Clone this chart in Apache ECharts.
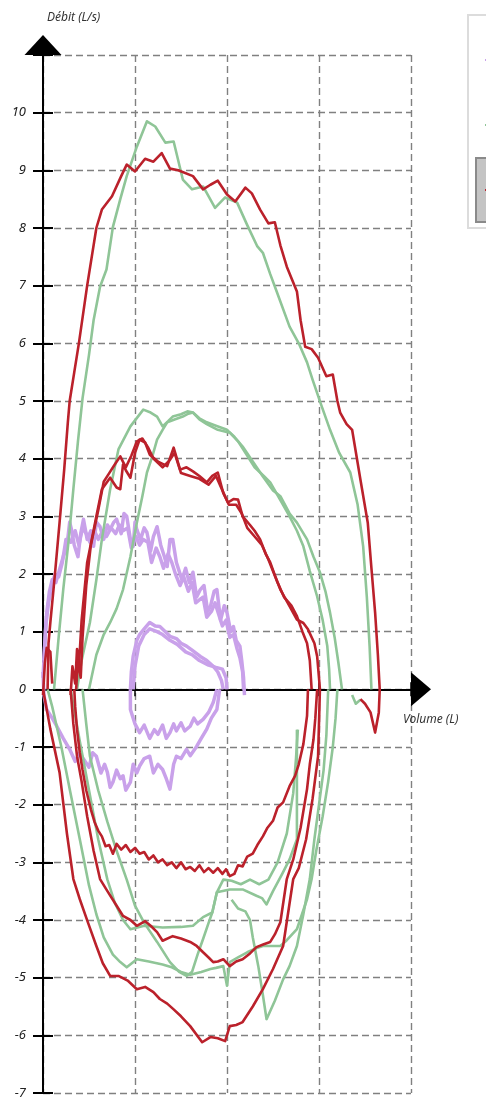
<!DOCTYPE html>
<html>
<head>
<meta charset="utf-8">
<script src="https://cdn.jsdelivr.net/npm/echarts@6/dist/echarts.min.js"></script>
<style>
html,body{margin:0;padding:0;background:#fff;}
#chart{width:486px;height:1099px;}
</style>
</head>
<body>
<div id="chart"></div>
<script>
// Axis ticks
const xTicks = [0, 1, 2, 3, 4];
const yTicks = [-7, -6, -5, -4, -3, -2, -1, 0, 1, 2, 3, 4, 5, 6, 7, 8, 9, 10, 11];
const seriesNames = ['Boucle 1', 'Boucle 2', 'Boucle 3'];

// Purple loops [volume L, flow L/s]
const purpleExpA = [[0.0,0.2],[0.02,0.8],[0.04,1.33],[0.07,1.7],[0.1,1.9],[0.14,1.85],[0.18,2.08],[0.22,2.3],[0.26,2.48],[0.29,2.9],[0.31,2.77],[0.34,2.5],[0.38,2.3],[0.41,2.7],[0.44,2.95],[0.48,2.6],[0.52,2.75],[0.55,2.48],[0.58,2.9],[0.62,2.82],[0.66,2.6],[0.7,2.85],[0.73,2.77],[0.77,2.9],[0.8,2.95],[0.85,2.7],[0.88,3.05],[0.91,3.0],[0.95,2.6],[0.98,2.48],[1.0,2.9],[1.02,2.77],[1.06,2.6],[1.1,2.8],[1.13,2.72],[1.17,2.4],[1.2,2.65],[1.24,2.82],[1.28,2.5],[1.32,2.3],[1.35,2.13],[1.38,2.6],[1.41,2.6],[1.45,2.2],[1.48,2.05],[1.51,1.9],[1.55,2.1],[1.59,1.85],[1.63,2.03],[1.67,1.6],[1.71,1.73],[1.75,1.8],[1.79,1.35],[1.82,1.44],[1.86,1.7],[1.89,1.73],[1.93,1.2],[1.97,1.45],[2.0,1.33],[2.04,1.0],[2.07,1.09],[2.1,0.85],[2.14,0.75],[2.16,0.5],[2.18,0.2],[2.19,-0.1]];
const purpleExpB = [[0.01,0.5],[0.03,1.1],[0.06,1.5],[0.09,1.75],[0.13,2.0],[0.17,1.95],[0.21,2.2],[0.25,2.6],[0.3,2.55],[0.35,2.75],[0.39,2.5],[0.43,2.8],[0.47,2.7],[0.51,2.55],[0.56,2.75],[0.6,2.6],[0.65,2.75],[0.69,2.65],[0.74,2.8],[0.79,2.7],[0.83,2.85],[0.87,2.75],[0.92,2.8],[0.96,2.45],[1.01,2.65],[1.05,2.5],[1.09,2.6],[1.14,2.55],[1.18,2.2],[1.23,2.45],[1.27,2.3],[1.31,2.1],[1.36,2.35],[1.4,2.2],[1.44,2.0],[1.49,1.8],[1.53,1.95],[1.58,1.7],[1.62,1.85],[1.66,1.5],[1.7,1.55],[1.74,1.6],[1.78,1.25],[1.83,1.35],[1.87,1.5],[1.91,1.3],[1.95,1.1],[1.99,1.2],[2.03,0.9],[2.07,0.95],[2.11,0.7],[2.14,0.55],[2.17,0.3],[2.18,0.0]];
const purpleInsp = [[0.0,0.3],[0.01,-0.1],[0.04,-0.35],[0.1,-0.5],[0.15,-0.64],[0.22,-0.85],[0.29,-1.04],[0.35,-1.25],[0.4,-1.1],[0.44,-1.21],[0.5,-1.35],[0.54,-1.1],[0.58,-1.16],[0.63,-1.45],[0.67,-1.3],[0.7,-1.44],[0.73,-1.7],[0.76,-1.61],[0.8,-1.4],[0.84,-1.55],[0.87,-1.5],[0.9,-1.75],[0.95,-1.61],[0.98,-1.3],[1.02,-1.45],[1.05,-1.33],[1.1,-1.2],[1.16,-1.16],[1.2,-1.45],[1.25,-1.3],[1.3,-1.39],[1.34,-1.55],[1.38,-1.73],[1.42,-1.3],[1.45,-1.16],[1.5,-1.2],[1.56,-1.04],[1.6,-1.15],[1.67,-0.99],[1.72,-0.85],[1.78,-0.69],[1.83,-0.5],[1.89,-0.35],[1.92,0]];
const purpleSmallExpA = [[0.95,0],[0.96,0.3],[0.98,0.57],[1.02,0.85],[1.05,0.95],[1.1,1.05],[1.16,1.16],[1.22,1.1],[1.27,1.09],[1.33,1.0],[1.38,0.92],[1.45,0.88],[1.5,0.8],[1.56,0.75],[1.62,0.68],[1.71,0.57],[1.78,0.5],[1.85,0.4],[1.9,0.3],[1.94,0.15],[1.96,0]];
const purpleSmallExpB = [[0.98,0],[1.0,0.4],[1.04,0.75],[1.1,0.95],[1.16,1.05],[1.24,1.0],[1.3,0.95],[1.38,0.85],[1.46,0.78],[1.55,0.65],[1.62,0.6],[1.7,0.5],[1.8,0.42],[1.88,0.38],[1.95,0.35],[1.99,0.2],[2.0,0]];
const purpleSmallInsp = [[0.95,0],[0.95,-0.35],[1.0,-0.6],[1.05,-0.75],[1.1,-0.62],[1.16,-0.85],[1.21,-0.7],[1.25,-0.78],[1.3,-0.62],[1.34,-0.85],[1.38,-0.75],[1.42,-0.6],[1.45,-0.72],[1.5,-0.58],[1.54,-0.72],[1.6,-0.64],[1.64,-0.5],[1.68,-0.6],[1.74,-0.52],[1.8,-0.4],[1.85,-0.23],[1.89,0]];

// Green loops
const greenExpBig = [[0.12,0],[0.17,0.9],[0.22,1.73],[0.28,2.6],[0.33,3.47],[0.38,4.3],[0.43,5.05],[0.5,5.8],[0.55,6.4],[0.62,6.98],[0.69,7.28],[0.76,8.02],[0.84,8.5],[0.91,8.9],[1.02,9.41],[1.13,9.85],[1.22,9.76],[1.33,9.48],[1.42,9.5],[1.52,8.84],[1.62,8.67],[1.74,8.72],[1.87,8.35],[1.98,8.53],[2.11,8.44],[2.22,8.05],[2.33,7.68],[2.39,7.57],[2.47,7.2],[2.54,6.9],[2.68,6.29],[2.78,6.0],[2.87,5.67],[2.93,5.37],[3.02,4.95],[3.12,4.5],[3.22,4.1],[3.34,3.76],[3.42,3.2],[3.48,2.48],[3.52,1.6],[3.55,0.75],[3.57,0]];
const greenExpMidA = [[0.37,0],[0.42,0.5],[0.51,1.16],[0.58,1.9],[0.64,2.6],[0.73,3.47],[0.82,4.16],[0.95,4.56],[1.09,4.85],[1.17,4.8],[1.24,4.73],[1.3,4.56],[1.36,4.65],[1.41,4.73],[1.5,4.77],[1.57,4.82],[1.63,4.8],[1.7,4.7],[1.78,4.63],[1.88,4.57],[2.0,4.5],[2.08,4.38],[2.17,4.21],[2.28,3.95],[2.39,3.69],[2.5,3.45],[2.58,3.35],[2.68,3.05],[2.76,2.89],[2.87,2.6],[2.94,2.3],[3.01,2.03],[3.07,1.7],[3.12,1.33],[3.17,0.9],[3.21,0.47],[3.25,0]];
const greenExpMidB = [[0.5,0],[0.58,0.6],[0.66,0.95],[0.73,1.16],[0.8,1.4],[0.87,1.73],[0.95,2.3],[1.02,2.89],[1.08,3.35],[1.13,3.76],[1.19,4.05],[1.24,4.33],[1.3,4.5],[1.35,4.63],[1.43,4.68],[1.52,4.73],[1.58,4.78],[1.63,4.8],[1.7,4.68],[1.78,4.6],[1.9,4.5],[2.03,4.45],[2.12,4.3],[2.2,4.1],[2.3,3.85],[2.4,3.7],[2.47,3.59],[2.58,3.28],[2.68,3.0],[2.76,2.75],[2.83,2.48],[2.9,2.05],[2.98,1.61],[3.04,1.2],[3.09,0.75],[3.11,0.35],[3.12,0]];
const greenInspA = [[3.2,0],[3.18,-0.5],[3.15,-1.0],[3.1,-1.6],[3.04,-2.2],[2.97,-2.8],[2.92,-3.29],[2.87,-3.64],[2.76,-4.16],[2.65,-4.35],[2.58,-4.45],[2.48,-4.45],[2.39,-4.45],[2.3,-4.5],[2.22,-4.56],[2.12,-4.65],[2.03,-4.73],[2.0,-5.14],[1.96,-4.8],[1.88,-4.83],[1.82,-4.85],[1.72,-4.9],[1.6,-4.95],[1.5,-4.9],[1.4,-4.82],[1.3,-4.77],[1.15,-4.72],[1.02,-4.68],[0.91,-4.82],[0.84,-4.73],[0.76,-4.6],[0.66,-4.3],[0.58,-3.9],[0.5,-3.4],[0.4,-2.6],[0.29,-1.73],[0.2,-1.0],[0.1,-0.3],[0.05,0]];
const greenInspB = [[2.76,-0.7],[2.76,-1.5],[2.76,-2.6],[2.68,-2.95],[2.6,-3.2],[2.5,-3.5],[2.43,-3.73],[2.38,-3.62],[2.32,-3.58],[2.17,-3.47],[2.03,-3.47],[1.89,-3.52],[1.84,-3.87],[1.74,-3.95],[1.63,-4.1],[1.5,-4.12],[1.3,-4.13],[1.1,-4.1],[0.95,-4.16],[0.87,-4.0],[0.78,-3.7],[0.7,-3.3],[0.6,-2.6],[0.5,-1.75],[0.4,-0.9],[0.3,0]];
const greenInspC = [[0.43,0],[0.47,-0.6],[0.51,-1.16],[0.6,-1.75],[0.7,-2.3],[0.8,-2.8],[0.91,-3.3],[1.0,-3.75],[1.1,-4.05],[1.24,-4.38],[1.38,-4.73],[1.48,-4.9],[1.56,-4.97],[1.62,-4.9],[1.68,-4.6],[1.74,-4.33],[1.8,-4.05],[1.84,-3.87],[1.89,-3.52],[1.96,-3.3],[2.05,-3.32],[2.15,-3.38],[2.25,-3.3],[2.35,-3.38],[2.45,-3.3],[2.55,-3.0],[2.65,-2.5],[2.72,-1.8],[2.75,-1.2],[2.77,-0.7]];
const greenInspD = [[3.1,0],[3.08,-0.8],[3.05,-1.4],[3.0,-2.0],[2.95,-2.6],[2.9,-3.29],[2.83,-3.9],[2.76,-4.45],[2.68,-4.8],[2.61,-5.03],[2.52,-5.4],[2.43,-5.72],[2.39,-5.3],[2.34,-4.8],[2.28,-4.3],[2.25,-4.0],[2.2,-3.85],[2.12,-3.8],[2.05,-3.65]];
const greenTail = [[3.36,-0.1],[3.4,-0.25],[3.45,-0.18]];

// Red loops
const redSpike = [[0.0,-0.1],[0.02,0.45],[0.04,0.72],[0.08,0.65],[0.1,0.1]];
const redExpBig = [[0.05,0],[0.06,0.8],[0.08,1.16],[0.13,2.0],[0.18,2.89],[0.23,3.8],[0.27,4.63],[0.29,5.0],[0.34,5.5],[0.39,6.0],[0.48,7.0],[0.58,8.0],[0.64,8.32],[0.75,8.55],[0.85,8.9],[0.91,9.1],[1.0,8.98],[1.11,9.2],[1.2,9.15],[1.29,9.3],[1.38,9.03],[1.47,9.0],[1.63,8.9],[1.74,8.67],[1.82,8.75],[1.9,8.82],[2.0,8.58],[2.09,8.46],[2.2,8.7],[2.27,8.6],[2.36,8.32],[2.45,8.08],[2.52,8.1],[2.58,7.7],[2.65,7.33],[2.76,6.9],[2.8,6.4],[2.85,5.94],[2.92,5.9],[2.99,5.75],[3.08,5.43],[3.15,5.46],[3.2,5.0],[3.23,4.8],[3.3,4.6],[3.36,4.5],[3.45,3.64],[3.53,2.89],[3.57,2.1],[3.61,1.33],[3.64,0.6],[3.66,0],[3.65,-0.4],[3.61,-0.75],[3.56,-0.4],[3.5,-0.25],[3.45,-0.17]];
const redInspBig = [[3.01,0],[2.99,-1.16],[2.93,-1.9],[2.86,-2.6],[2.78,-3.1],[2.72,-3.29],[2.61,-4.45],[2.5,-4.85],[2.39,-5.2],[2.28,-5.5],[2.17,-5.77],[2.1,-5.82],[2.03,-5.84],[1.98,-6.1],[1.9,-6.05],[1.82,-6.03],[1.73,-6.12],[1.6,-5.84],[1.5,-5.67],[1.42,-5.55],[1.35,-5.45],[1.27,-5.37],[1.2,-5.25],[1.11,-5.16],[1.02,-5.2],[0.92,-5.05],[0.82,-4.97],[0.73,-4.97],[0.65,-4.75],[0.58,-4.45],[0.49,-4.05],[0.4,-3.64],[0.33,-3.29],[0.26,-2.5],[0.18,-1.44],[0.08,-0.69],[0.0,0]];
const redExpMidA = [[0.3,-0.1],[0.32,0.4],[0.35,0.1],[0.37,0.7],[0.39,0.4],[0.42,1.2],[0.48,2.2],[0.53,2.6],[0.58,3.0],[0.64,3.47],[0.73,3.67],[0.8,3.5],[0.84,3.47],[0.87,3.9],[0.9,3.8],[0.95,3.67],[1.0,4.1],[1.05,4.33],[1.11,4.28],[1.16,4.07],[1.25,3.95],[1.35,3.87],[1.42,4.19],[1.49,3.81],[1.56,3.85],[1.63,3.78],[1.7,3.7],[1.78,3.59],[1.84,3.7],[1.9,3.76],[1.96,3.4],[2.01,3.24],[2.07,3.3],[2.12,3.29],[2.17,3.0],[2.25,2.85],[2.3,2.75],[2.36,2.6],[2.42,2.35],[2.47,2.2],[2.52,1.98],[2.58,1.73],[2.66,1.5],[2.76,1.21],[2.83,1.15],[2.88,1.04],[2.95,0.8],[2.98,0.57],[3.0,0.2],[3.01,0]];
const redExpMidB = [[0.36,0],[0.38,0.5],[0.41,0.2],[0.43,0.9],[0.47,1.8],[0.52,2.5],[0.6,3.1],[0.66,3.6],[0.72,3.75],[0.78,3.9],[0.84,4.04],[0.9,3.85],[0.96,4.05],[1.02,4.3],[1.08,4.35],[1.14,4.2],[1.2,4.0],[1.3,3.85],[1.38,3.98],[1.43,4.1],[1.5,3.75],[1.6,3.7],[1.7,3.65],[1.8,3.55],[1.88,3.7],[1.95,3.45],[2.02,3.2],[2.1,3.2],[2.16,3.05],[2.22,2.8],[2.3,2.65],[2.38,2.5],[2.45,2.25],[2.55,1.85],[2.62,1.6],[2.7,1.45],[2.76,1.27],[2.82,1.0],[2.87,0.8],[2.9,0.5],[2.92,0]];
const redInspMidA = [[2.88,0],[2.87,-0.46],[2.83,-0.95],[2.78,-1.3],[2.74,-1.5],[2.68,-1.68],[2.61,-1.96],[2.55,-2.05],[2.5,-2.28],[2.44,-2.4],[2.39,-2.55],[2.33,-2.7],[2.28,-2.85],[2.22,-2.9],[2.17,-3.07],[2.12,-3.05],[2.08,-3.2],[2.03,-3.24],[1.99,-3.12],[1.95,-3.2],[1.9,-3.1],[1.85,-3.18],[1.8,-3.1],[1.75,-3.17],[1.7,-3.05],[1.65,-3.15],[1.6,-3.08],[1.55,-3.12],[1.5,-3.0],[1.45,-3.1],[1.4,-3.0],[1.35,-3.05],[1.3,-2.95],[1.25,-3.0],[1.2,-2.88],[1.15,-2.95],[1.1,-2.82],[1.05,-2.85],[1.0,-2.75],[0.95,-2.82],[0.9,-2.7],[0.85,-2.78],[0.8,-2.68],[0.76,-2.85],[0.72,-2.7],[0.68,-2.72],[0.64,-2.55],[0.6,-2.45],[0.56,-2.3],[0.52,-2.08],[0.47,-1.75],[0.43,-1.4],[0.4,-1.1],[0.37,-0.7],[0.35,-0.3],[0.34,0]];
const redInspMidB = [[2.98,0],[2.96,-0.5],[2.94,-0.87],[2.9,-1.3],[2.87,-1.73],[2.8,-2.4],[2.72,-2.95],[2.65,-3.29],[2.58,-4.04],[2.52,-4.25],[2.47,-4.38],[2.4,-4.42],[2.32,-4.47],[2.25,-4.58],[2.17,-4.68],[2.1,-4.72],[2.03,-4.8],[1.96,-4.68],[1.9,-4.72],[1.85,-4.73],[1.8,-4.65],[1.74,-4.56],[1.67,-4.45],[1.6,-4.38],[1.5,-4.32],[1.41,-4.28],[1.3,-4.36],[1.24,-4.21],[1.17,-4.1],[1.11,-4.02],[1.02,-4.1],[0.95,-4.0],[0.87,-3.93],[0.78,-3.7],[0.7,-3.5],[0.62,-3.29],[0.55,-2.8],[0.48,-2.2],[0.42,-1.6],[0.37,-1.16],[0.33,-0.6],[0.3,0]];

const PURPLE = '#c9a1ea', GREEN = '#8fc597', RED = '#bb212b';
const groups = [
  {name: seriesNames[0], color: PURPLE, width: 3.5, lines: [purpleExpA, purpleExpB, purpleInsp, purpleSmallExpA, purpleSmallExpB, purpleSmallInsp]},
  {name: seriesNames[1], color: GREEN, width: 2.6, lines: [greenExpBig, greenExpMidA, greenExpMidB, greenInspA, greenInspB, greenInspC, greenInspD, greenTail]},
  {name: seriesNames[2], color: RED, width: 2.6, lines: [redSpike, redExpBig, redInspBig, redExpMidA, redExpMidB, redInspMidA, redInspMidB]}
];
const series = [];
groups.forEach((g, gi) => {
  g.lines.forEach(d => {
    series.push({
      type: 'line', name: g.name, data: d, xAxisIndex: 0, yAxisIndex: 0,
      showSymbol: false, symbol: 'none', smooth: false, z: 2 + gi,
      lineStyle: {color: g.color, width: g.width, join: 'round'},
      itemStyle: {color: g.color}, emphasis: {disabled: true}, silent: true
    });
  });
});

const FONT = '"Noto Sans", "Open Sans", sans-serif';
const chart = echarts.init(document.getElementById('chart'), null, {renderer: 'canvas'});
chart.setOption({
  animation: false,
  backgroundColor: '#ffffff',
  grid: {left: 43, right: 75, top: 55, bottom: 6, outerBoundsMode: 'none'},
  legend: {
    orient: 'vertical', left: 484, top: 54, itemGap: 53, itemWidth: 14, itemHeight: 12,
    padding: 0, data: seriesNames, textStyle: {fontSize: 12, color: '#333'}, z: 10
  },
  xAxis: [{
    type: 'value', min: xTicks[0], max: xTicks[xTicks.length - 1], interval: 1,
    axisLine: {show: true, onZero: true, symbol: ['none', 'triangle'], symbolSize: [34, 20], symbolOffset: [0, 10],
      lineStyle: {color: '#000', width: 2}},
    axisTick: {show: true, length: 7, lineStyle: {color: '#000', width: 1.5}},
    axisLabel: {show: true, margin: 13, align: 'right', padding: [0, 3, 0, 0], fontSize: 12, fontStyle: 'italic', color: '#222', fontFamily: FONT,
      formatter: v => (v === 4 ? '' : String(v))},
    splitLine: {show: true, lineStyle: {color: '#808080', width: 1.4, type: [7, 4]}}
  }, {
    type: 'value', position: 'top', min: xTicks[0], max: xTicks[xTicks.length - 1], interval: 1,
    axisLine: {show: false, onZero: true},
    axisTick: {show: true, length: 7, lineStyle: {color: '#000', width: 1.5}},
    axisLabel: {show: false}, splitLine: {show: false}
  }],
  yAxis: [{
    type: 'value', min: yTicks[0], max: yTicks[yTicks.length - 1], interval: 1,
    axisLine: {show: true, onZero: true, symbol: ['none', 'triangle'], symbolSize: [37, 20], symbolOffset: [0, 10],
      lineStyle: {color: '#000', width: 2}},
    axisTick: {show: true, length: 10, lineStyle: {color: '#000', width: 2}},
    axisLabel: {show: true, margin: 17, fontSize: 13, fontStyle: 'italic', color: '#222', fontFamily: FONT,
      formatter: v => (v === 11 ? '' : String(v))},
    splitLine: {show: true, lineStyle: {color: '#808080', width: 1.4, type: [7, 4]}}
  }, {
    type: 'value', position: 'right', min: yTicks[0], max: yTicks[yTicks.length - 1], interval: 1,
    axisLine: {show: false, onZero: true},
    axisTick: {show: true, length: 10, lineStyle: {color: '#000', width: 2}},
    axisLabel: {show: false}, splitLine: {show: false}
  }],
  graphic: [
    {type: 'rect', z: 1, shape: {x: 468, y: 15, width: 40, height: 213}, style: {fill: '#fff', stroke: '#dcdcdc', lineWidth: 2}},
    {type: 'rect', z: 2, shape: {x: 476, y: 158, width: 30, height: 64}, style: {fill: '#c4c4c4', stroke: '#8a8a8a', lineWidth: 2}},
    {type: 'text', z: 20, left: 47, top: 12, style: {text: 'Débit (L/s)', font: 'italic 12px ' + FONT, fill: '#333'}},
    {type: 'text', z: 20, left: 403, top: 714, style: {text: 'Volume (L)', font: 'italic 12px ' + FONT, fill: '#333'}}
  ],
  series: series
});
</script>
</body>
</html>
